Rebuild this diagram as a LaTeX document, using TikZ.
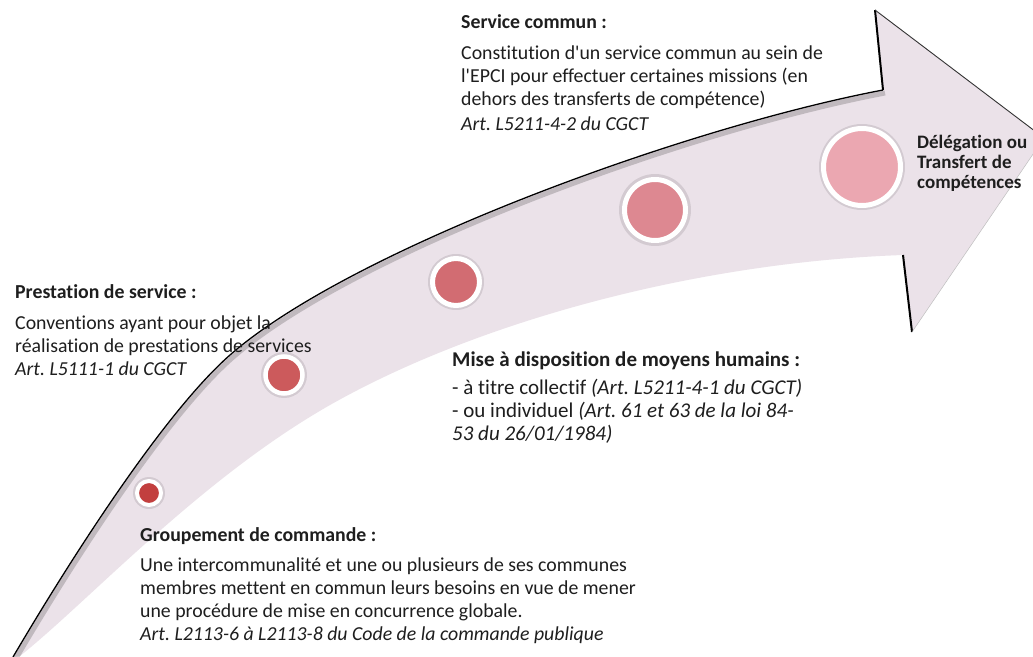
\documentclass[tikz,border=0pt]{standalone}
\usepackage{fontspec}
\setmainfont{Carlito}[Ligatures=NoCommon]
\definecolor{bandc}{HTML}{EBE2E9}
\definecolor{txtc}{HTML}{1E1E1E}
\definecolor{dotA}{HTML}{C23F3E}
\definecolor{dotB}{HTML}{CC5A5C}
\definecolor{dotC}{HTML}{D26C72}
\definecolor{dotD}{HTML}{DD8891}
\definecolor{dotE}{HTML}{EBA7B1}
\tikzset{
  txt/.style={anchor=base west, inner sep=0pt, text=txtc, font=\fontsize{19.8}{23}\selectfont},
  hd/.style={txt, font=\fontsize{19.8}{23}\selectfont\bfseries},
  it/.style={txt, font=\fontsize{19.8}{23}\selectfont\itshape},
  txtb/.style={txt, font=\fontsize{21}{23}\selectfont},
  hdb/.style={txt, font=\fontsize{21}{23}\selectfont\bfseries},
  itb/.style={txt, font=\fontsize{21}{23}\selectfont\itshape},
  hds/.style={txt, font=\fontsize{19}{20}\selectfont\bfseries},
  dot/.style={circle, draw=white, inner sep=0pt},
  halo/.style={circle, fill=black, opacity=0.10, inner sep=0pt}
}
\begin{document}
\frenchspacing
\begin{tikzpicture}[x=1pt,y=-1pt]
\useasboundingbox (0,0) rectangle (1033,656);
\clip (0,0) rectangle (1033,656);
\fill[white] (0,0) rectangle (1033,656);
\coordinate (t0) at (13,657);
\coordinate (t1) at (230,355);
\coordinate (nu) at (883,90);
\coordinate (hu) at (875,10);
\coordinate (tip) at (1044,138);
\coordinate (hl) at (912,332);
\coordinate (nl) at (903,255);
\coordinate (l1) at (330,405);
\coordinate (l2) at (20,656);
% band of the arrow
\fill[bandc]
  (t0) .. controls (73,555) and (165,412) .. (t1)
       .. controls (350,250) and (683,128) .. (nu)
  -- (hu) -- (tip) -- (hl) -- (nl)
       .. controls (700,262) and (480,320) .. (l1)
       .. controls (200,479) and (90,600) .. (l2)
  -- cycle;
% shadow under the upper edge
\begin{scope}[shift={(2,3)}]
\draw[black, opacity=0.18, line width=5pt]
  (13,657) .. controls (73,555) and (165,412) .. (230,355)
       .. controls (350,250) and (683,128) .. (883,90);
\end{scope}
% outlines
\draw[black, line width=1.3pt, line join=round]
  (t0) .. controls (73,555) and (165,412) .. (t1)
       .. controls (350,250) and (683,128) .. (nu);
\draw[black, line width=2pt] (nu) -- (hu);
\draw[black!80, line width=0.9pt] (hu) -- (tip);
\draw[black, line width=2pt] (nl) -- (hl);
\draw[black!25, line width=0.5pt] (hl) -- (tip);
% circles
\node[halo, minimum size=32pt] at (149,493) {};
\node[dot, fill=dotA, line width=4pt, minimum size=24pt] (c1) at (149,493) {};
\node[halo, minimum size=46pt] at (284,375) {};
\node[dot, fill=dotB, line width=4.5pt, minimum size=37pt] (c2) at (284,375) {};
\node[halo, minimum size=56pt] at (456,282) {};
\node[dot, fill=dotC, line width=5pt, minimum size=47pt] (c3) at (456,282) {};
\node[halo, minimum size=72pt] at (655,210) {};
\node[dot, fill=dotD, line width=5pt, minimum size=61pt] (c4) at (655,210) {};
\node[halo, minimum size=86pt] at (862,167) {};
\node[dot, fill=dotE, line width=5pt, minimum size=77pt] (c5) at (862,167) {};
% Service commun
\node[hd] (s0) at (461,28) {Service commun :};
\node[txt] (s1) at (461,59) {Constitution d\textquotesingle un service commun au sein de};
\node[txt] (s2) at (461,82) {l\textquotesingle EPCI pour effectuer certaines missions (en};
\node[txt] (s3) at (461,105) {dehors des transferts de compétence)};
\node[it] (s4) at (461,130) {Art. L5211-4-2 du CGCT};
% Prestation de service
\node[hd] (p0) at (15,298) {Prestation de service :};
\node[txt] (p1) at (15,329) {Conventions ayant pour objet la};
\node[txt] (p2) at (15,352) {réalisation de prestations de services};
\node[it] (p3) at (15,375) {Art. L5111-1 du CGCT};
% Mise a disposition
\node[hdb] (m0) at (452,366) {Mise à disposition de moyens humains :};
\node[txtb] (m1) at (452,394) {- à titre collectif \textit{(Art. L5211-4-1 du CGCT)}};
\node[txtb] (m2) at (452,417) {- ou individuel \textit{(Art. 61 et 63 de la loi 84-}};
\node[itb] (m3) at (452,440) {53 du 26/01/1984)};
% Groupement de commande
\node[hd] (g0) at (140,541) {Groupement de commande :};
\node[txt] (g1) at (140,571) {Une intercommunalité et une ou plusieurs de ses communes};
\node[txt] (g2) at (140,594) {membres mettent en commun leurs besoins en vue de mener};
\node[txt] (g3) at (140,617) {une procédure de mise en concurrence globale.};
\node[it] (g4) at (140,640) {Art. L2113-6 à L2113-8 du Code de la commande publique};
% Delegation
\node[hds] (d0) at (917,148) {Délégation ou};
\node[hds] (d1) at (917,168) {Transfert de};
\node[hds] (d2) at (917,188) {compétences};
\end{tikzpicture}
\end{document}
